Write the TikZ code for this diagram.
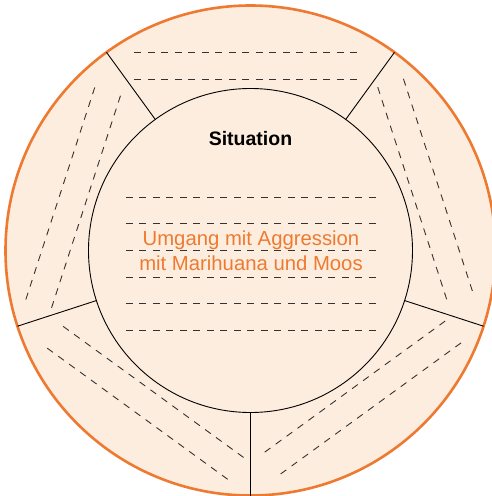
\documentclass[tikz,border=0pt]{standalone}
\usepackage{fontspec}
\setmainfont{Liberation Sans}
\definecolor{peach}{HTML}{FDEDDE}
\definecolor{rust}{HTML}{EE7A31}

\begin{document}
\begin{tikzpicture}[
		x=1pt,y=1pt,
		ring/.style={circle,draw,outer sep=0pt,inner sep=0pt},
		spoke/.style={line width=0.9pt},
		guide/.style={line width=0.9pt,draw=black!80,dash pattern=on 7pt off 6.5pt},
		heading/.style={font=\bfseries\fontsize{19.5}{23}\selectfont},
		topic/.style={text=rust,anchor=base,font=\fontsize{20.3}{24}\selectfont}
		]
		\useasboundingbox (-250.5,-245.5) rectangle (241.5,250.5);
		\node[ring,fill=peach,draw=rust,line width=2.6pt,minimum size=490pt] (outer) at (0,0) {};
		\node[ring,line width=0.9pt,minimum size=324pt] (inner) at (0,0) {};
		
		% five outer fields
		\foreach \a in {54,126,198,270,342}
		\draw[spoke] (inner.\a) -- (outer.\a);
		\foreach \a in {0,72,144,216,288}{
			\draw[guide,rotate=\a] (-116,198.5) -- (112,198.5);
			\draw[guide,rotate=\a] (-116,171.5) -- (112,171.5);
		}
		
		% inner field
		\foreach \y in {53.3,26.7,0,-26.7,-53.3,-80}
		\draw[guide] (-124.5,\y) -- (125.5,\y);
		\node[heading,anchor=base] (situation) at (0,104.8) {Situation};
		\node[topic] (topic1) at (0.5,5.5) {Umgang mit Aggression};
		\node[topic] (topic2) at (0.5,-20.2) {mit Marihuana und Moos};
\end{tikzpicture}
\end{document}
